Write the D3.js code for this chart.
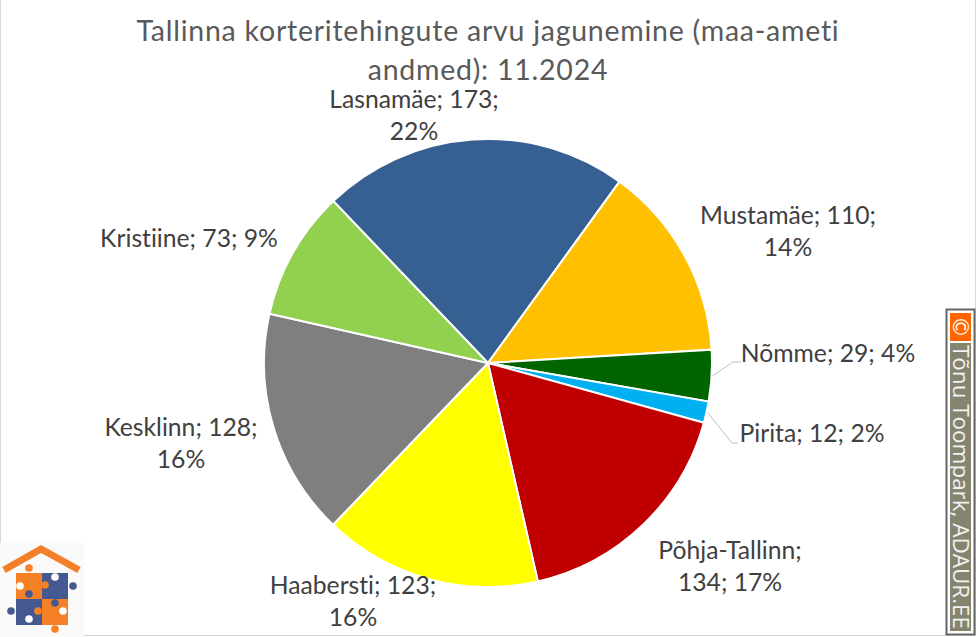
<!DOCTYPE html>
<html>
<head>
<meta charset="utf-8">
<script src="https://cdn.jsdelivr.net/npm/d3@7"></script>
<style>
  html, body { margin: 0; padding: 0; background: #fff; }
  svg { display: block; font-family: Lato, "Open Sans", sans-serif; font-variant-ligatures: none; }
  .lbl { font-size: 24.7px; fill: #404040; text-anchor: middle; }
  .title { font-size: 28.5px; fill: #595959; text-anchor: middle; letter-spacing: 0.75px; }
</style>
</head>
<body>
<div id="content"></div>
<script>
const width = 976;
const height = 637;

// Chart values, clockwise from Lasnamäe
const districts = ["Lasnamäe", "Mustamäe", "Nõmme", "Pirita", "Põhja-Tallinn", "Haabersti", "Kesklinn", "Kristiine"];
const counts = [173, 110, 29, 12, 134, 123, 128, 73];
const colors = ["#376092", "#ffc000", "#006400", "#00b0f0", "#c00000", "#ffff00", "#7f7f7f", "#92d050"];
const titleLines = ["Tallinna korteritehingute arvu jagunemine (maa-ameti", "andmed): 11.2024"];
const creditText = "Tõnu Toompark, ADAUR.EE";

// Label placement by hand, same as the dragged labels in the original
const labelX = [414, 788, 828, 812, 730, 353, 181, 189];
const labelY = [108, 224, 362, 442, 559, 594, 436, 247];
const firstLineParts = [2, 2, 3, 3, 1, 2, 2, 3]; // parts of the label on its first line

const cx = 488, cy = 363, radius = 224;
const startAngle = -43.7 * Math.PI / 180;

const svg = d3.select("#content").append("svg")
  .attr("width", width)
  .attr("height", height)
  .attr("viewBox", `0 0 ${width} ${height}`);

svg.append("rect")
  .attr("x", 0.5).attr("y", -1)
  .attr("width", width - 1).attr("height", height - 0.5)
  .attr("fill", "#fff").attr("stroke", "#d9d9d9");

// Title
svg.append("g").selectAll("text")
  .data(titleLines)
  .enter().append("text")
  .attr("class", "title")
  .attr("x", 488)
  .attr("y", (d, i) => 41 + i * 39)
  .text(d => d);

// Pie
const total = d3.sum(counts);
const pie = d3.pie()
  .sort(null)
  .startAngle(startAngle)
  .endAngle(startAngle + 2 * Math.PI);
const arc = d3.arc().innerRadius(0).outerRadius(radius);
const arcs = pie(counts);

svg.append("g")
  .attr("transform", `translate(${cx},${cy})`)
  .selectAll("path")
  .data(arcs)
  .enter().append("path")
  .attr("d", arc)
  .attr("fill", (d, i) => colors[i])
  .attr("stroke", "#fff")
  .attr("stroke-width", 2);

// Leader lines for the two small slices
const leaderEnds = { 2: [[741, 362], [733, 362]], 3: [[738, 443], [732, 443]] };
Object.keys(leaderEnds).forEach(k => {
  const mid = (arcs[k].startAngle + arcs[k].endAngle) / 2;
  const p0 = [cx + Math.sin(mid) * (radius + 1), cy - Math.cos(mid) * (radius + 1)];
  const [end, elbow] = leaderEnds[k];
  svg.append("path")
    .attr("d", d3.line()([p0, elbow, end]))
    .attr("fill", "none")
    .attr("stroke", "#bfbfbf")
    .attr("stroke-width", 1);
});

// Data labels
const labels = svg.append("g").selectAll("text")
  .data(districts)
  .enter().append("text")
  .attr("class", "lbl")
  .attr("x", (d, i) => labelX[i])
  .attr("y", (d, i) => labelY[i]);

labels.each(function (d, i) {
  const pct = Math.round(counts[i] / total * 100) + "%";
  const parts = [d + ";", counts[i] + ";", pct];
  const n = firstLineParts[i];
  const lines = [parts.slice(0, n).join(" "), parts.slice(n).join(" ")].filter(l => l);
  d3.select(this).selectAll("tspan")
    .data(lines)
    .enter().append("tspan")
    .attr("x", labelX[i])
    .attr("dy", (l, j) => j ? 32 : 0)
    .text(l => l);
});

// Credit strip on the right edge
const credit = svg.append("g");
credit.append("rect")
  .attr("x", 946.5).attr("y", 309.5).attr("width", 28).attr("height", 325)
  .attr("fill", "#fff").attr("stroke", "#666").attr("stroke-width", 2);
credit.append("rect")
  .attr("x", 950).attr("y", 313).attr("width", 21).attr("height", 28)
  .attr("fill", "#ff6600");
credit.append("rect")
  .attr("x", 950).attr("y", 343).attr("width", 21).attr("height", 288)
  .attr("fill", "#85856f");
credit.append("text")
  .attr("transform", "translate(960.5,327) rotate(90)")
  .attr("text-anchor", "middle").attr("dy", "0.35em")
  .attr("font-size", 21).attr("fill", "#fff")
  .text("©");
credit.append("text")
  .attr("transform", "translate(953,345) rotate(90)")
  .attr("font-family", "'Open Sans', sans-serif")
  .attr("font-size", 22).attr("fill", "#f2f2f2")
  .attr("textLength", 284)
  .attr("lengthAdjust", "spacingAndGlyphs")
  .text(creditText);

// Logo bottom left: house roof and puzzle pieces
const logo = svg.append("g");
logo.append("rect").attr("x", 0).attr("y", 543).attr("width", 84).attr("height", 94).attr("fill", "#fafafa");
logo.append("path")
  .attr("d", "M4 570L41 549L79 570")
  .attr("fill", "none").attr("stroke", "#f47f2a").attr("stroke-width", 7);
const orange = "#f58026", blue = "#44598f";
[[16, 573, orange], [42, 573, blue], [16, 599, blue], [42, 599, orange]].forEach(([x, y, c]) => {
  logo.append("rect").attr("x", x).attr("y", y).attr("width", 26).attr("height", 26).attr("fill", c);
});
[[29, 568, orange], [73, 586, blue], [11, 611, blue], [55, 629, orange],
 [29, 594, blue], [38, 611, orange], [55, 603, blue], [45, 585, orange]].forEach(([x, y, c]) => {
  logo.append("circle").attr("cx", x).attr("cy", y).attr("r", 3.8).attr("fill", c);
});
[[20, 586], [55, 577], [63, 611], [29, 619]].forEach(([x, y]) => {
  logo.append("circle").attr("cx", x).attr("cy", y).attr("r", 3.8).attr("fill", "#fff");
});
</script>
</body>
</html>
